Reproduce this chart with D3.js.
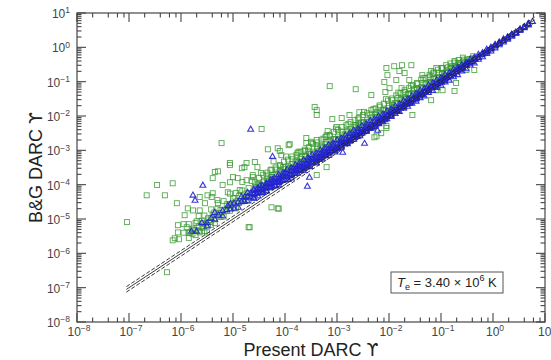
<!DOCTYPE html>
<html>
<head>
<meta charset="utf-8">
<style>
  body { margin: 0; background: #fff; }
  text { font-family: "Liberation Sans", Arial, Helvetica, sans-serif; }
</style>
</head>
<body>
<svg width="551" height="360"></svg>
<script src="https://d3js.org/d3.v7.min.js"></script>
<script>
// decades shown on both axes
var decades = [-8, -7, -6, -5, -4, -3, -2, -1, 0, 1];
var xMinor = [2, 4, 6, 8];
var yMinor = [2, 3, 4, 5, 6, 7, 8, 9];

// points stored as [log10(Present DARC), log10(B&G DARC)]
var greenScatter = [
  [-7.04,-5.09],[-6.27,-6.55],[-6.66,-4.31],[-6.46,-4.01],[-6.31,-4.31],[-6.16,-3.96],[-6.08,-4.54],
  [-5.87,-4.69],[-6.06,-5.18],[-6.16,-5.62],[-6.04,-5.59],[-5.83,-5.39],[-5.77,-5.33],[-5.7,-5.07],
  [-5.64,-5.39],[-5.5,-5.39],[-5.64,-4.75],[-5.54,-4.54],[-5.77,-4.75],[-5.93,-4.89],[-5.58,-5.12],
  [-5.45,-5.09],[-5.35,-5.12],[-5.39,-4.89],[-5.49,-4.31],[-5.39,-4.25],[-5.29,-4.54],[-5.26,-4.83],
  [-5.35,-3.63],[-5.06,-3.43],[-5.0,-3.78],[-5.2,-4.01],[-5.1,-4.22],[-4.97,-4.39],[-4.91,-4.54],
  [-4.87,-4.16],[-4.78,-3.49],[-4.62,-3.72],[-4.74,-3.87],[-4.68,-5.24],[-6.06,-5.39],[-6.12,-5.56],
  [-4.45,-2.38],[-5.22,-2.79],[-5.06,-3.37],[-5.29,-3.61],[-4.74,-3.37],[-4.58,-3.34],[-4.33,-2.97],
  [-4.14,-2.94],[-4.07,-3.14],[-3.91,-2.82],[-3.76,-3.08],[-3.59,-2.79],[-3.72,-3.34],[-3.57,-3.43],
  [-3.39,-2.7],[-3.39,-1.97],[-3.43,-1.74],[-3.09,-2.09],[-2.91,-2.06],[-3.2,-2.94],[-3.39,-3.72],
  [-3.2,-3.49],[-4.26,-4.66],[-4.14,-4.69],[-4.7,-5.24],[-2.7,-2.5],[-2.63,-2.27],
  [-4.53,-3.49],[-4.91,-3.81],[-5.06,-3.93],[-5.39,-3.81],[-5.41,-4.36],[-5.64,-4.36],[-5.89,-5.24],
  [-5.58,-5.24],[-3.14,-1.13],[-2.64,-1.22],[-2.34,-1.39],[-2.07,-1.3],[-3.39,-1.83],[-2.57,-1.89],
  [-2.76,-1.97],[-3.93,-2.85],[-4.1,-3.02],[-4.83,-3.52],[-4.26,-3.78],[-4.62,-3.78],[-4.12,-4.7],
  [-2.28,-2.62],[-2.05,-2.35],[-3.18,-2.44],[-3.01,-2.32],[-3.59,-2.64],[-3.49,-2.79],[-3.2,-2.56],
  [-1.9,-0.55],[-1.75,-0.52],[-1.57,-0.52],[-1.8,-0.69],[-1.7,-0.75],[-1.86,-0.95],[-2.03,-0.81],
  [-2.09,-1.01],[-1.99,-1.19],[-1.76,-1.19],[-1.61,-0.95],[-1.36,-0.81],[-1.19,-0.69],[-1.09,-0.6],
  [-0.97,-0.6],[-0.8,-0.55],[-0.65,-0.46],[-0.51,-0.66],[-0.36,-0.66],[-1.09,-1.25],[-0.97,-1.25],
  [-0.74,-1.27],[-0.71,-1.04],[-1.19,-1.54],[-1.55,-1.97],[-2.05,-2.29],[-2.15,-2.5],[-2.24,-2.59],
  [-2.05,-0.6]
];

var greenBand = [
  [-5.95,-5.40],[-5.95,-5.15],[-5.85,-5.40],[-5.85,-5.15],[-5.85,-5.55],[-5.78,-5.28],[-5.78,-5.43],
  [-5.72,-5.12],[-5.72,-5.32],[-5.72,-5.47],[-5.66,-5.21],[-5.66,-5.36],[-5.66,-4.91],[-5.6,-5.05],
  [-5.6,-5.25],[-5.55,-5.15],[-5.55,-5.35],[-5.55,-4.9],[-5.48,-4.98],[-5.48,-5.18],[-5.42,-4.97],
  [-5.42,-4.72],[-5.42,-5.17],[-5.36,-5.01],[-5.36,-4.81],[-5.3,-4.9],[-5.3,-4.7],[-5.3,-4.45],
  [-5.24,-4.94],[-5.24,-4.74],[-5.18,-4.73],[-5.18,-4.48],[-5.18,-4.93],[-5.12,-4.77],[-5.12,-4.57],
  [-5.06,-4.56],[-5.06,-4.26],[-5.06,-4.76],[-5.0,-4.6],[-5.0,-4.4],[-4.94,-4.49],[-4.94,-4.69],
  [-4.94,-4.24],[-4.88,-4.33],[-4.88,-4.53],[-4.82,-4.42],[-4.82,-4.17],[-4.82,-3.92],[-4.76,-4.46],
  [-4.76,-4.26],[-4.7,-4.25],[-4.7,-4.1],[-4.7,-4.45],[-4.64,-4.29],[-4.64,-3.89],[-4.58,-4.08],
  [-4.58,-4.28],[-4.58,-3.93],[-4.52,-4.12],[-4.52,-3.97],[-4.46,-4.16],[-4.46,-4.01],[-4.46,-3.66],
  [-4.4,-3.9],[-4.4,-4.05],[-4.34,-3.74],[-4.34,-4.09],[-4.34,-3.94],[-4.28,-3.83],[-4.28,-3.58],
  [-4.22,-3.92],[-4.22,-3.72],[-4.22,-3.32],[-4.16,-3.76],[-4.16,-3.56],[-4.1,-3.85],[-4.1,-3.65],
  [-4.1,-3.45],[-4.04,-3.69],[-4.04,-3.49],[-3.98,-3.68],[-3.98,-3.48],[-3.98,-3.18],[-3.92,-3.52],
  [-3.92,-3.72],[-3.86,-3.51],[-3.86,-3.26],[-3.86,-3.61],[-3.8,-3.35],[-3.8,-3.5],[-3.74,-3.54],
  [-3.74,-3.34],[-3.74,-3.04],[-3.68,-3.33],[-3.68,-3.18],[-3.62,-3.37],[-3.62,-3.17],[-3.62,-3.02],
  [-3.56,-3.26],[-3.56,-3.01],[-3.5,-3.3],[-3.5,-3.1],[-3.5,-2.75],[-3.44,-3.09],[-3.44,-3.19],
  [-3.38,-3.08],[-3.38,-2.88],[-3.38,-3.23],[-3.32,-2.92],[-3.32,-3.07],[-3.26,-3.06],[-3.26,-2.91],
  [-3.26,-2.66],[-3.2,-2.9],[-3.2,-2.75],[-3.14,-2.99],[-3.14,-2.84],[-3.14,-2.59],[-3.08,-2.83],
  [-3.08,-2.68],[-3.02,-2.82],[-3.02,-2.67],[-3.02,-2.37],[-2.96,-2.66],[-2.96,-2.81],[-2.9,-2.65],
  [-2.9,-2.45],[-2.9,-2.8],[-2.84,-2.54],[-2.84,-2.64],[-2.78,-2.63],[-2.78,-2.43],[-2.78,-2.23],
  [-2.72,-2.47],[-2.72,-2.62],[-2.66,-2.46],[-2.66,-2.26],[-2.6,-2.3],[-2.6,-2.48],[-2.6,-2.1],
  [-2.54,-2.32],[-2.54,-2.19],[-2.48,-2.33],[-2.48,-2.18],[-2.48,-1.88],[-2.42,-2.17],[-2.42,-2.32],
  [-2.36,-2.16],[-2.36,-1.96],[-2.3,-2.18],[-2.3,-2.02],[-2.3,-1.8],[-2.24,-2.04],[-2.24,-1.89],
  [-2.18,-2.08],[-2.18,-1.93],[-2.18,-1.73],[-2.12,-1.94],[-2.12,-1.82],[-2.06,-1.94],[-2.06,-1.84],
  [-2.06,-1.51],[-2.0,-1.7],[-2.0,-1.85],[-1.94,-1.74],[-1.94,-1.54],[-1.94,-1.84],[-1.88,-1.63],
  [-1.88,-1.76],[-1.82,-1.64],[-1.82,-1.47],[-1.82,-1.32],[-1.76,-1.66],[-1.76,-1.51],[-1.7,-1.5],
  [-1.7,-1.3],[-1.7,-1.58],[-1.64,-1.36],[-1.64,-1.49],[-1.58,-1.48],[-1.58,-1.36],[-1.58,-1.13],
  [-1.52,-1.34],[-1.52,-1.22],[-1.46,-1.34],[-1.46,-1.21],[-1.46,-1.06],[-1.4,-1.2],[-1.4,-1.3],
  [-1.34,-1.19],[-1.34,-1.04],[-1.34,-0.89],[-1.28,-1.06],[-1.28,-1.18],[-1.22,-1.04],[-1.22,-0.87],
  [-1.16,-1.04],[-1.16,-0.91],[-1.16,-0.76],[-1.1,-0.9],[-1.1,-1.02],[-1.04,-0.89],[-1.04,-0.74],
  [-0.98,-0.88],[-0.98,-0.76],[-0.98,-0.6],[-0.92,-0.74],[-0.92,-0.84],[-0.86,-0.74],[-0.86,-0.58],
  [-0.8,-0.6],[-0.8,-0.74],[-0.74,-0.59],[-0.74,-0.44],[-0.68,-0.58],[-0.68,-0.46],[-0.62,-0.46],
  [-0.62,-0.57],[-0.56,-0.44],[-0.56,-0.36],[-0.5,-0.42],[-0.5,-0.35],[-0.44,-0.34],[-0.38,-0.32],
  [-0.38,-0.26]
];

// dense green strip sitting just above the blue band
var greenCore = [
  [-4.5,-3.99],[-4.5,-3.8],[-4.42,-3.93],[-4.42,-3.71],[-4.34,-3.84],[-4.34,-3.65],[-4.26,-3.78],
  [-4.26,-3.56],[-4.18,-3.69],[-4.18,-3.5],[-4.1,-3.61],[-4.1,-3.43],[-4.02,-3.55],[-4.02,-3.33],
  [-3.94,-3.46],[-3.94,-3.27],[-3.86,-3.4],[-3.86,-3.18],[-3.78,-3.31],[-3.78,-3.13],[-3.7,-3.25],
  [-3.7,-3.04],[-3.62,-3.19],[-3.62,-2.98],[-3.54,-3.1],[-3.54,-2.91],[-3.46,-3.04],[-3.46,-2.82],
  [-3.38,-2.96],[-3.38,-2.77],[-3.3,-2.88],[-3.3,-2.69],[-3.22,-2.83],[-3.22,-2.61],[-3.14,-2.74],
  [-3.14,-2.55],[-3.06,-2.68],[-3.06,-2.46],[-2.98,-2.6],[-2.98,-2.41],[-2.9,-2.54],[-2.9,-2.32],
  [-2.82,-2.46],[-2.82,-2.27],[-2.74,-2.39],[-2.74,-2.18],[-2.66,-2.33],[-2.66,-2.12],[-2.58,-2.25],
  [-2.58,-2.06],[-2.5,-2.19],[-2.5,-1.97],[-2.42,-2.11],[-2.42,-1.92],[-2.34,-2.05],[-2.34,-1.83],
  [-2.26,-1.97],[-2.26,-1.78],[-2.18,-1.91],[-2.18,-1.69],[-2.1,-1.83],[-2.1,-1.64],[-2.02,-1.77],
  [-2.02,-1.55],[-1.94,-1.68],[-1.94,-1.49],[-1.86,-1.62],[-1.86,-1.4],[-1.78,-1.53],[-1.78,-1.34],
  [-1.7,-1.47],[-1.7,-1.25],[-1.62,-1.38],[-1.62,-1.19],[-1.54,-1.32],[-1.54,-1.1],[-1.46,-1.23],
  [-1.46,-1.04],[-1.38,-1.16],[-1.38,-0.94],[-1.3,-1.08],[-1.3,-0.89],[-1.22,-1.01],[-1.22,-0.8],
  [-1.14,-0.92],[-1.14,-0.73],[-1.06,-0.86],[-1.06,-0.65],[-0.98,-0.77],[-0.98,-0.61],[-0.9,-0.7],
  [-0.9,-0.52],[-0.82,-0.62],[-0.82,-0.47],[-0.74,-0.55],[-0.74,-0.4],[-0.66,-0.47],[-0.66,-0.37],
  [-0.58,-0.41],[-0.58,-0.3]
];

var blueScatter = [
  [-4.66,-2.38],[-4.24,-3.17],[-3.53,-3.78],[-3.57,-4.04],[-2.47,-2.79],[-2.89,-3.05],
  [-5.58,-4.01],[-5.77,-4.3],[-5.73,-4.45],[-2.22,-2.41],[-5.1,-4.6]
];

var blueBand = [
  [-5.8,-5.35],[-5.7,-5.35],[-5.6,-5.1],[-5.5,-5.1],[-5.5,-5.2],[-5.42,-4.97],[-5.35,-5.0],
  [-5.35,-4.8],[-5.28,-4.88],[-5.2,-4.9],[-5.2,-4.75],[-5.12,-4.72],[-5.05,-4.7],[-5.05,-4.55],
  [-4.98,-4.68],[-4.98,-4.53],[-4.9,-4.5],[-4.9,-4.65],[-4.84,-4.49],[-4.84,-4.34],[-4.78,-4.48],
  [-4.78,-4.36],[-4.72,-4.34],[-4.72,-4.47],[-4.72,-4.22],[-4.66,-4.36],[-4.66,-4.24],[-4.6,-4.25],
  [-4.6,-4.38],[-4.6,-4.12],[-4.54,-4.24],[-4.54,-4.14],[-4.48,-4.23],[-4.48,-4.13],[-4.48,-4.03],
  [-4.42,-4.12],[-4.42,-4.22],[-4.36,-4.08],[-4.36,-3.98],[-4.36,-4.18],[-4.3,-4.05],[-4.3,-3.95],
  [-4.24,-4.04],[-4.24,-3.94],[-4.24,-3.84],[-4.18,-3.93],[-4.18,-4.03],[-4.12,-3.9],[-4.12,-3.8],
  [-4.12,-4.0],[-4.06,-3.86],[-4.06,-3.76],[-4.0,-3.85],[-4.0,-3.75],[-4.0,-3.65],[-3.94,-3.74],
  [-3.94,-3.84],[-3.88,-3.7],[-3.88,-3.6],[-3.88,-3.8],[-3.82,-3.67],[-3.82,-3.57],[-3.76,-3.56],
  [-3.76,-3.66],[-3.76,-3.46],[-3.7,-3.55],[-3.7,-3.48],[-3.64,-3.52],[-3.64,-3.44],[-3.64,-3.59],
  [-3.58,-3.4],[-3.58,-3.48],[-3.52,-3.37],[-3.52,-3.27],[-3.52,-3.46],[-3.46,-3.34],[-3.46,-3.26],
  [-3.4,-3.3],[-3.4,-3.22],[-3.4,-3.36],[-3.34,-3.2],[-3.34,-3.26],[-3.28,-3.16],[-3.28,-3.08],
  [-3.28,-3.24],[-3.22,-3.12],[-3.22,-3.06],[-3.16,-3.08],[-3.16,-3.01],[-3.16,-3.14],[-3.1,-3.0],
  [-3.1,-2.92],[-3.04,-2.98],[-3.04,-2.92],[-3.04,-3.04],[-2.98,-2.88],[-2.98,-2.94],[-2.92,-2.84],
  [-2.92,-2.78],[-2.92,-2.9],[-2.86,-2.8],[-2.86,-2.74],[-2.8,-2.75],[-2.8,-2.7],[-2.8,-2.8],
  [-2.74,-2.66],[-2.74,-2.71],[-2.68,-2.62],[-2.68,-2.56],[-2.68,-2.68],[-2.62,-2.58],[-2.62,-2.53],
  [-2.56,-2.51],[-2.56,-2.46],[-2.56,-2.57],[-2.5,-2.46],[-2.5,-2.42],[-2.44,-2.41],[-2.44,-2.37],
  [-2.44,-2.44],[-2.38,-2.33],[-2.38,-2.36],[-2.32,-2.29],[-2.32,-2.25],[-2.32,-2.34],[-2.26,-2.22],
  [-2.26,-2.26],[-2.2,-2.18],[-2.2,-2.14],[-2.2,-2.22],[-2.14,-2.11],[-2.14,-2.14],[-2.08,-2.04],
  [-2.08,-2.07],[-2.08,-2.1],[-2.02,-2.0],[-2.02,-1.97],[-1.96,-1.96],[-1.96,-1.93],[-1.96,-1.99],
  [-1.9,-1.88],[-1.9,-1.85],[-1.84,-1.84],[-1.84,-1.81],[-1.84,-1.86],[-1.78,-1.76],[-1.78,-1.74],
  [-1.72,-1.72],[-1.72,-1.69],[-1.72,-1.74],[-1.66,-1.65],[-1.66,-1.62],[-1.6,-1.6],[-1.6,-1.58],
  [-1.6,-1.63],[-1.54,-1.53],[-1.54,-1.51],[-1.48,-1.48],[-1.48,-1.46],[-1.48,-1.5],[-1.42,-1.41],
  [-1.42,-1.39],[-1.36,-1.36],[-1.36,-1.38],[-1.36,-1.34],[-1.3,-1.29],[-1.3,-1.27],[-1.24,-1.24],
  [-1.24,-1.22],[-1.24,-1.26],[-1.18,-1.17],[-1.18,-1.15],[-1.12,-1.12],[-1.12,-1.14],[-1.06,-1.05],
  [-1.06,-1.04],[-1.0,-1.0],[-1.0,-1.01],[-1.0,-0.98],[-0.94,-0.93],[-0.94,-0.96],[-0.88,-0.88],
  [-0.88,-0.86],[-0.82,-0.81],[-0.82,-0.83],[-0.76,-0.76],[-0.76,-0.74],[-0.7,-0.69],[-0.7,-0.71],
  [-0.64,-0.64],[-0.64,-0.62],[-0.58,-0.57],[-0.58,-0.59],[-0.52,-0.52],[-0.52,-0.5],[-0.46,-0.45],
  [-0.4,-0.4],[-0.4,-0.41],[-0.34,-0.33],[-0.28,-0.28],[-0.22,-0.21],[-0.16,-0.16],[-0.1,-0.09],
  [-0.04,-0.04],[0.04,0.05],[0.12,0.12],[0.2,0.21],[0.28,0.28],[0.36,0.37],[0.44,0.44],
  [0.52,0.53],[0.6,0.6],[0.68,0.69],[0.76,0.76]
];

// thick core of the blue band, slightly above the 1:1 line at low values
var blueCore = [
  [-4.6,-4.39],[-4.6,-4.27],[-4.6,-4.16],[-4.52,-4.32],[-4.52,-4.2],[-4.52,-4.08],[-4.44,-4.23],
  [-4.44,-4.13],[-4.44,-4.02],[-4.36,-4.17],[-4.36,-4.04],[-4.36,-3.95],[-4.28,-4.08],[-4.28,-3.98],
  [-4.28,-3.86],[-4.2,-4.02],[-4.2,-3.89],[-4.2,-3.8],[-4.12,-3.93],[-4.12,-3.83],[-4.12,-3.7],
  [-4.04,-3.87],[-4.04,-3.73],[-4.04,-3.65],[-3.96,-3.77],[-3.96,-3.67],[-3.96,-3.55],[-3.88,-3.72],
  [-3.88,-3.58],[-3.88,-3.5],[-3.8,-3.63],[-3.8,-3.53],[-3.8,-3.41],[-3.72,-3.58],[-3.72,-3.44],
  [-3.72,-3.36],[-3.64,-3.49],[-3.64,-3.39],[-3.64,-3.27],[-3.56,-3.43],[-3.56,-3.29],[-3.56,-3.21],
  [-3.48,-3.34],[-3.48,-3.24],[-3.48,-3.12],[-3.4,-3.29],[-3.4,-3.15],[-3.4,-3.07],[-3.32,-3.2],
  [-3.32,-3.1],[-3.32,-2.98],[-3.24,-3.15],[-3.24,-3.01],[-3.24,-2.93],[-3.16,-3.05],[-3.16,-2.95],
  [-3.16,-2.83],[-3.08,-3.0],[-3.08,-2.86],[-3.08,-2.78],[-3.0,-2.91],[-3.0,-2.81],[-3.0,-2.69],
  [-2.92,-2.86],[-2.92,-2.72],[-2.92,-2.64],[-2.84,-2.77],[-2.84,-2.67],[-2.84,-2.55],[-2.76,-2.72],
  [-2.76,-2.58],[-2.76,-2.5],[-2.68,-2.63],[-2.68,-2.53],[-2.68,-2.41],[-2.6,-2.58],[-2.6,-2.44],
  [-2.6,-2.36],[-2.52,-2.49],[-2.52,-2.39],[-2.52,-2.27],[-2.44,-2.44],[-2.44,-2.3],[-2.44,-2.22],
  [-2.36,-2.35],[-2.36,-2.25],[-2.36,-2.13],[-2.28,-2.3],[-2.28,-2.16],[-2.28,-2.08],[-2.2,-2.21],
  [-2.2,-2.11],[-2.2,-1.99],[-2.12,-2.16],[-2.12,-2.02],[-2.12,-1.94],[-2.04,-2.07],[-2.04,-1.97],
  [-2.04,-1.85],[-1.96,-2.01],[-1.96,-1.87],[-1.96,-1.79],[-1.88,-1.92],[-1.88,-1.82],[-1.88,-1.7],
  [-1.8,-1.86],[-1.8,-1.72],[-1.8,-1.64],[-1.72,-1.77],[-1.72,-1.67],[-1.72,-1.55],[-1.64,-1.71],
  [-1.64,-1.57],[-1.64,-1.49],[-1.56,-1.62],[-1.56,-1.52],[-1.56,-1.4],[-1.48,-1.56],[-1.48,-1.42],
  [-1.48,-1.34],[-1.4,-1.46],[-1.4,-1.36],[-1.4,-1.24],[-1.32,-1.41],[-1.32,-1.27],[-1.32,-1.19],
  [-1.24,-1.31],[-1.24,-1.21],[-1.24,-1.09],[-1.16,-1.25],[-1.16,-1.11],[-1.16,-1.03],[-1.08,-1.16],
  [-1.08,-1.06],[-1.08,-0.94],[-1.0,-1.1],[-1.0,-0.96],[-1.0,-0.88],[-0.92,-1.0],[-0.92,-0.9],
  [-0.92,-0.78],[-0.84,-0.95],[-0.84,-0.81],[-0.84,-0.73],[-0.76,-0.85],[-0.76,-0.75],[-0.76,-0.63],
  [-0.68,-0.79],[-0.68,-0.65],[-0.68,-0.57],[-0.6,-0.68],[-0.6,-0.6],[-0.6,-0.5],[-0.52,-0.62],
  [-0.52,-0.5],[-0.52,-0.44],[-0.44,-0.51],[-0.44,-0.44],[-0.44,-0.34],[-0.36,-0.45],[-0.36,-0.35],
  [-0.36,-0.29],[-0.28,-0.34],[-0.28,-0.29],[-0.28,-0.2],[-0.2,-0.27],[-0.2,-0.19],[-0.2,-0.15],
  [-0.12,-0.17],[-0.12,-0.13],[-0.12,-0.05],[-0.04,-0.1],[-0.04,-0.03],[-0.04,0.01],[0.04,-0.01],
  [0.04,0.05],[0.04,0.09],[0.12,0.08],[0.12,0.13],[0.12,0.16],[0.2,0.16],[0.2,0.2],[0.2,0.25],
  [0.28,0.24],[0.28,0.29],[0.28,0.31],[0.36,0.33],[0.36,0.37],[0.36,0.39],[0.44,0.41],[0.44,0.45],
  [0.52,0.5],[0.52,0.54],[0.6,0.58],[0.6,0.61],[0.68,0.66],[0.68,0.7]
];

// one-to-one line and the +/-20% band
var lineEnds = [-7.05, 0.8];
var bandFactor = 1.2;

var svg = d3.select("svg");
var margin = {left: 77, right: 545, top: 13, bottom: 322};

var x = d3.scaleLog().domain([1e-8, 10]).range([margin.left, margin.right]);
var y = d3.scaleLog().domain([1e-8, 10]).range([margin.bottom, margin.top]);

function px(d) { return x(Math.pow(10, d[0])); }
function py(d) { return y(Math.pow(10, d[1])); }

// green squares
var green = greenScatter.concat(greenBand, greenCore);
svg.append("g").selectAll("rect")
  .data(green)
  .enter().append("rect")
    .attr("x", function(d) { return px(d) - 2.5; })
    .attr("y", function(d) { return py(d) - 2.5; })
    .attr("width", 5)
    .attr("height", 5)
    .attr("fill", "none")
    .attr("stroke", "#3a9a32")
    .attr("stroke-width", 0.9)
    .attr("stroke-opacity", 0.85);

// blue triangles
var tri = d3.symbol().type(d3.symbolTriangle).size(15);
svg.append("g").selectAll("path")
  .data(blueScatter.concat(blueBand, blueCore))
  .enter().append("path")
    .attr("d", tri)
    .attr("transform", function(d) { return "translate(" + px(d) + "," + (py(d) + 0.5) + ")"; })
    .attr("fill", "none")
    .attr("stroke", "#2424d2")
    .attr("stroke-width", 1.1)
    .attr("stroke-opacity", 0.9);

// 1:1 and dashed band lines
var x0 = Math.pow(10, lineEnds[0]), x1 = Math.pow(10, lineEnds[1]);
[[1, null], [bandFactor, "4,2"], [1 / bandFactor, "4,2"]].forEach(function(l) {
  svg.append("line")
    .attr("x1", x(x0)).attr("y1", y(x0 * l[0]))
    .attr("x2", x(x1)).attr("y2", y(x1 * l[0]))
    .attr("stroke", "#222")
    .attr("stroke-width", 0.9)
    .attr("stroke-dasharray", l[1]);
});

// frame
svg.append("rect")
  .attr("x", margin.left).attr("y", margin.top)
  .attr("width", margin.right - margin.left)
  .attr("height", margin.bottom - margin.top)
  .attr("fill", "none")
  .attr("stroke", "#555")
  .attr("stroke-width", 1.3);

// ticks on all four sides, pointing inward
var ticks = svg.append("g").attr("stroke", "#444").attr("stroke-width", 1.1);
decades.forEach(function(e) {
  var v = Math.pow(10, e);
  var tx = x(v), ty = y(v);
  ticks.append("line").attr("x1", tx).attr("x2", tx).attr("y1", margin.bottom).attr("y2", margin.bottom - 9);
  ticks.append("line").attr("x1", tx).attr("x2", tx).attr("y1", margin.top).attr("y2", margin.top + 9);
  ticks.append("line").attr("y1", ty).attr("y2", ty).attr("x1", margin.left).attr("x2", margin.left + 9);
  ticks.append("line").attr("y1", ty).attr("y2", ty).attr("x1", margin.right).attr("x2", margin.right - 9);
  if (e < 1) {
    xMinor.forEach(function(k) {
      var mx = x(k * v);
      ticks.append("line").attr("x1", mx).attr("x2", mx).attr("y1", margin.bottom).attr("y2", margin.bottom - 4.5);
      ticks.append("line").attr("x1", mx).attr("x2", mx).attr("y1", margin.top).attr("y2", margin.top + 4.5);
    });
    yMinor.forEach(function(k) {
      var my = y(k * v);
      ticks.append("line").attr("y1", my).attr("y2", my).attr("x1", margin.left).attr("x2", margin.left + 4.5);
      ticks.append("line").attr("y1", my).attr("y2", my).attr("x1", margin.right).attr("x2", margin.right - 4.5);
    });
  }
});

function expText(sel, e) {
  sel.append("tspan").text("10");
  sel.append("tspan")
    .attr("font-size", "8.5px")
    .attr("dy", "-0.55em")
    .text(String(e).replace("-", "\u2212"));
}

// x tick labels
decades.forEach(function(e) {
  var t = svg.append("text")
    .attr("x", x(Math.pow(10, e)) + 2)
    .attr("y", 336)
    .attr("text-anchor", "middle")
    .attr("font-size", "12px")
    .attr("fill", "#444");
  expText(t, e);
});

// y tick labels
decades.forEach(function(e) {
  var t = svg.append("text")
    .attr("x", 70)
    .attr("y", y(Math.pow(10, e)) + 5)
    .attr("text-anchor", "end")
    .attr("font-size", "12px")
    .attr("fill", "#444");
  expText(t, e);
});

// axis titles (upsilon with hook from DejaVu)
var xt = svg.append("text")
  .attr("x", (margin.left + margin.right) / 2)
  .attr("y", 356)
  .attr("text-anchor", "middle")
  .attr("font-size", "18px")
  .attr("fill", "#222");
xt.append("tspan").text("Present DARC ");
xt.append("tspan").style("font-family", "'DejaVu Sans'").attr("font-size", "17px").text("\u03D2");

var yt = svg.append("text")
  .attr("transform", "translate(42," + ((margin.top + margin.bottom) / 2) + ") rotate(-90)")
  .attr("text-anchor", "middle")
  .attr("font-size", "18px")
  .attr("fill", "#222");
yt.append("tspan").text("B&G DARC ");
yt.append("tspan").style("font-family", "'DejaVu Sans'").attr("font-size", "17px").text("\u03D2");

// temperature label box
svg.append("rect")
  .attr("x", 391).attr("y", 272)
  .attr("width", 112).attr("height", 21)
  .attr("fill", "#fff")
  .attr("stroke", "#555")
  .attr("stroke-width", 1);

var lab = svg.append("text")
  .attr("x", 397).attr("y", 287)
  .attr("font-size", "13px")
  .attr("fill", "#222");
lab.append("tspan").attr("font-style", "italic").text("T");
lab.append("tspan").attr("font-size", "9px").attr("dy", "3").text("e");
lab.append("tspan").attr("dy", "-3").text(" = 3.40 \u00D7 10");
lab.append("tspan").attr("font-size", "9px").attr("dy", "-6").text("6");
lab.append("tspan").attr("dy", "6").text(" K");
</script>
</body>
</html>
